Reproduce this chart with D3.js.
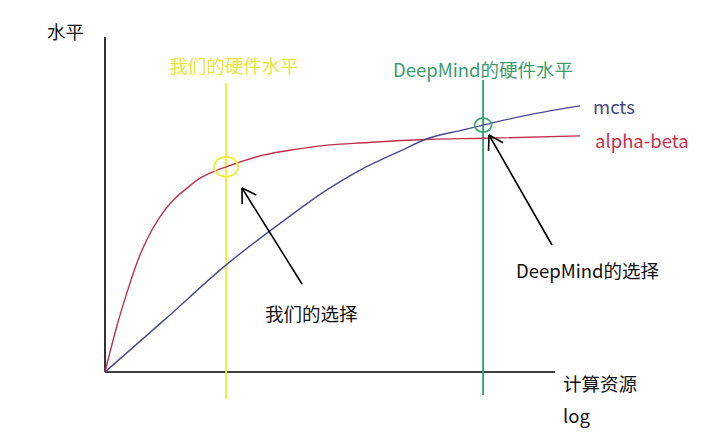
<!DOCTYPE html>
<html>
<head>
<meta charset="utf-8">
<script src="https://cdn.jsdelivr.net/npm/d3@7"></script>
<style>
  body { margin: 0; background: #fff; }
  svg { display: block; }
  text { font-family: "Noto Sans CJK SC", "Noto Sans", sans-serif; }
</style>
</head>
<body>
<svg id="chart" width="720" height="443"></svg>
<script>
// compute resource (log) vs level, both on a 0..100 scale
const alphaBetaX = [0, 2.46, 4.57, 6.67, 8.78, 11.6, 14.4, 17.2, 20, 22.8, 25.5, 33.3, 40.4, 47.4, 54.4, 68.4, 79.6, 100];
const alphaBetaY = [0, 15.1, 26.2, 36.2, 44, 51.8, 57.3, 61.2, 64.6, 66.8, 68.4, 72.3, 74.3, 75.7, 76.4, 77.6, 77.9, 78.7];
const mctsX = [0, 12.8, 25.5, 37.5, 46.7, 53.7, 62.1, 67.4, 75.4, 79.6, 89.5, 100];
const mctsY = [0, 17.8, 35.7, 50.3, 60.7, 67.3, 73.6, 77.5, 80.7, 82.3, 85.8, 88.7];

const hardwareNames = ["我们的硬件水平", "DeepMind的硬件水平"];
const hardwareX = [25.5, 79.6];
const choiceNames = ["我们的选择", "DeepMind的选择"];
const seriesNames = ["mcts", "alpha-beta"];

const svg = d3.select("#chart");

const x = d3.scaleLinear().domain([0, 100]).range([105, 580]);
const y = d3.scaleLinear().domain([0, 100]).range([372, 72]);

// axes
svg.append("line")
  .attr("x1", x(0)).attr("x2", x(0))
  .attr("y1", 37).attr("y2", y(0))
  .attr("stroke", "#000").attr("stroke-width", 1.6);
svg.append("line")
  .attr("x1", x(0)).attr("x2", 555)
  .attr("y1", y(0)).attr("y2", y(0))
  .attr("stroke", "#000").attr("stroke-width", 1.6);

svg.append("text").attr("x", 47).attr("y", 39)
  .attr("font-size", 18.5).attr("fill", "#111").text("水平");
svg.append("text").attr("x", 563).attr("y", 391)
  .attr("font-size", 18.5).attr("fill", "#111").text("计算资源");
svg.append("text").attr("x", 563).attr("y", 423)
  .attr("font-size", 18.5).attr("fill", "#111").text("log");

// hardware vertical lines
const hwColors = ["#eeee3c", "#3aa774"];
const hwText = ["#e6e637", "#3c9c6c"];
const hwTop = [83, 80];
const hwBottom = [399, 395];
const hwLabelY = [73, 77];
const hwLabelX = [234, 483];

hardwareX.forEach((hx, i) => {
  svg.append("line")
    .attr("x1", x(hx)).attr("x2", x(hx))
    .attr("y1", hwTop[i]).attr("y2", hwBottom[i])
    .attr("stroke", hwColors[i]).attr("stroke-width", 2);
  svg.append("text")
    .attr("x", hwLabelX[i]).attr("y", hwLabelY[i])
    .attr("text-anchor", "middle")
    .attr("font-size", 18.5).attr("fill", hwText[i])
    .text(hardwareNames[i]);
});

// curves
const line = d3.line()
  .x(d => x(d[0]))
  .y(d => y(d[1]))
  .curve(d3.curveMonotoneX);

const redData = alphaBetaX.map((v, i) => [v, alphaBetaY[i]]);
const blueData = mctsX.map((v, i) => [v, mctsY[i]]);

svg.append("path").datum(redData)
  .attr("d", line).attr("fill", "none")
  .attr("stroke", "#c0304e").attr("stroke-width", 1.4);
svg.append("path").datum(blueData)
  .attr("d", line).attr("fill", "none")
  .attr("stroke", "#4a4a8e").attr("stroke-width", 1.4);

svg.append("text").attr("x", 593).attr("y", 114)
  .attr("font-size", 18.5).attr("fill", "#48487e").text(seriesNames[0]);
svg.append("text").attr("x", 595).attr("y", 148)
  .attr("font-size", 18.5).attr("fill", "#c8304a").text(seriesNames[1]);

// selection circles
const interp = (xs, ys, v) => {
  const i = xs.findIndex(d => d >= v);
  if (xs[i] === v) return ys[i];
  const t = (v - xs[i - 1]) / (xs[i] - xs[i - 1]);
  return ys[i - 1] + t * (ys[i] - ys[i - 1]);
};
const circY = [interp(alphaBetaX, alphaBetaY, hardwareX[0]), interp(mctsX, mctsY, hardwareX[1])];
const circR = [[12, 10], [8.5, 7]];
hardwareX.forEach((hx, i) => {
  svg.append("ellipse")
    .attr("cx", x(hx)).attr("cy", y(circY[i]))
    .attr("rx", circR[i][0]).attr("ry", circR[i][1])
    .attr("fill", "none").attr("stroke", hwColors[i]).attr("stroke-width", 1.8);
});

// arrows
const arrows = [
  { from: [302, 284], to: [242, 188] },
  { from: [552, 245], to: [489, 135] }
];
arrows.forEach(a => {
  const [x0, y0] = a.from, [x1, y1] = a.to;
  const ang = Math.atan2(y0 - y1, x0 - x1);
  const len = 16, spread = 0.55;
  svg.append("line")
    .attr("x1", x0).attr("y1", y0).attr("x2", x1).attr("y2", y1)
    .attr("stroke", "#000").attr("stroke-width", 1.6);
  [-spread, spread].forEach(s => {
    svg.append("line")
      .attr("x1", x1).attr("y1", y1)
      .attr("x2", x1 + len * Math.cos(ang + s))
      .attr("y2", y1 + len * Math.sin(ang + s))
      .attr("stroke", "#000").attr("stroke-width", 1.6);
  });
});

svg.append("text").attr("x", 265).attr("y", 321)
  .attr("font-size", 18.5).attr("fill", "#111").text(choiceNames[0]);
svg.append("text").attr("x", 516).attr("y", 278)
  .attr("font-size", 18.5).attr("fill", "#111").text(choiceNames[1]);
</script>
</body>
</html>
